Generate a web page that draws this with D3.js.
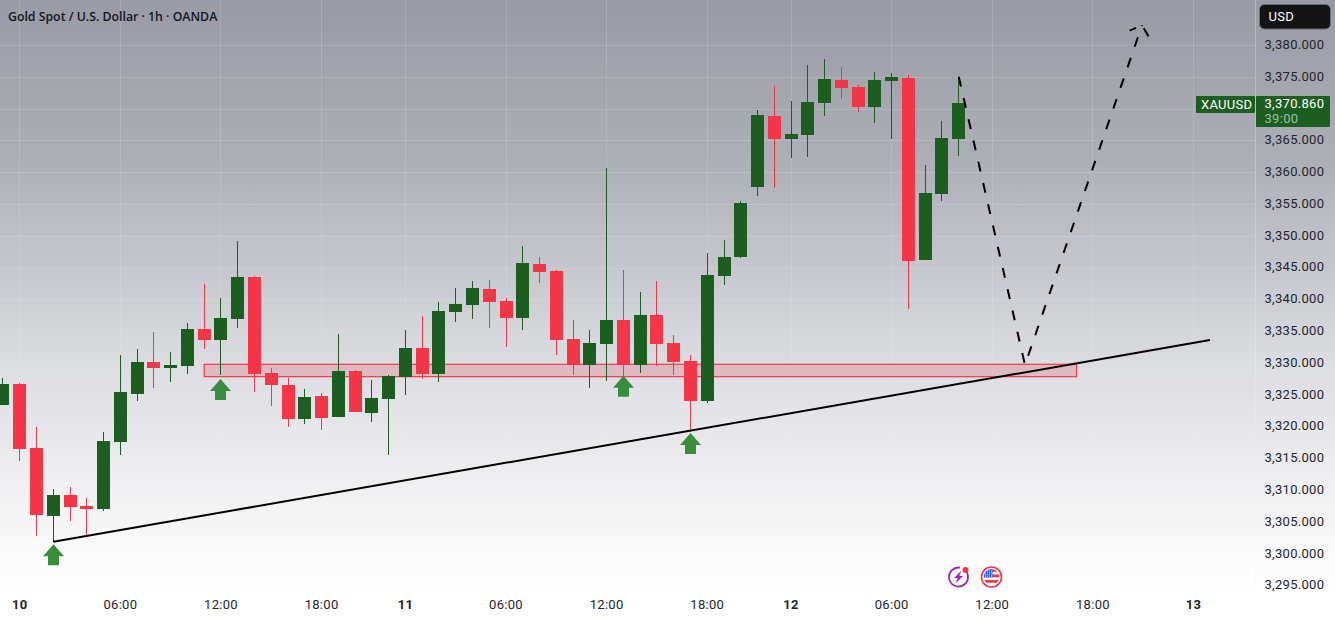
<!DOCTYPE html>
<html>
<head>
<meta charset="utf-8">
<title>Gold Spot / U.S. Dollar</title>
<script src="https://cdn.jsdelivr.net/npm/d3@7"></script>
<style>
  html, body { margin: 0; padding: 0; background: #fff; overflow: hidden; }
  svg { display: block; }
  text { font-family: Roboto, sans-serif; letter-spacing: 0.3px; }
</style>
</head>
<body>
<svg id="chart" width="1335" height="618"></svg>
<script>
// Hourly XAUUSD candles. The first bar sits one slot left of the "10" session open.
const firstBar = -1;
const opens  = [3323.4,3326.7,3316.6,3305.9,3309.2,3307.5,3307.0,3317.6,3325.1,3330.2,3329.2,3329.5,3335.3,3333.6,3336.9,3343.5,3328.4,3326.5,3321.2,3324.8,3321.5,3328.7,3322.1,3324.3,3327.8,3332.4,3328.3,3338.0,3339.1,3341.6,3339.7,3337.1,3345.6,3344.5,3333.8,3329.7,3333.0,3336.8,3329.7,3337.5,3333.1,3330.3,3324.0,3343.7,3346.7,3357.7,3368.8,3365.2,3365.8,3370.9,3374.5,3373.4,3370.2,3374.3,3374.8,3346.2,3356.6,3365.2];
const highs  = [3327.6,3326.9,3319.9,3310.2,3310.5,3308.8,3319.2,3331.3,3332.2,3334.9,3331.7,3336.3,3342.4,3340.2,3349.2,3343.7,3329.2,3327.6,3325.9,3325.3,3334.6,3328.9,3327.3,3328.1,3335.2,3337.4,3339.6,3341.8,3342.9,3343.0,3340.2,3348.4,3346.7,3344.6,3336.8,3335.2,3360.7,3344.6,3341.2,3342.9,3334.4,3331.3,3347.3,3349.3,3355.5,3369.8,3373.6,3371.2,3376.9,3377.8,3376.5,3373.7,3375.8,3375.6,3375.3,3361.1,3368.0,3374.8];
const lows   = [3323.4,3314.6,3302.8,3301.9,3305.2,3302.8,3306.7,3315.5,3324.0,3326.1,3327.0,3328.3,3332.2,3328.1,3335.5,3325.4,3323.2,3319.9,3320.4,3319.5,3321.5,3322.3,3320.7,3315.5,3325.0,3327.5,3327.0,3336.4,3336.9,3335.5,3332.5,3335.2,3342.6,3331.3,3328.1,3326.1,3327.2,3328.0,3328.4,3329.5,3328.1,3319.2,3323.7,3342.3,3346.5,3356.3,3357.5,3362.2,3362.4,3368.8,3371.5,3369.5,3367.7,3365.2,3338.5,3346.2,3355.5,3362.5];
const closes = [3326.7,3316.5,3306.1,3309.2,3307.4,3307.0,3317.7,3325.4,3330.2,3329.2,3329.7,3335.3,3333.6,3337.1,3343.5,3328.3,3326.5,3321.2,3324.7,3321.4,3328.7,3322.3,3324.5,3328.0,3332.4,3328.3,3338.2,3339.3,3341.8,3339.6,3337.1,3345.7,3344.3,3333.6,3329.7,3333.1,3336.8,3329.7,3337.5,3333.0,3330.2,3324.0,3343.8,3346.7,3355.2,3369.0,3365.2,3366.0,3371.0,3374.7,3373.2,3370.2,3374.5,3375.0,3346.0,3356.7,3365.4,3370.86];

// Axis labelling; the 3,370 label gives way to the last-price tag
const priceTicks = d3.range(3295, 3381, 5);
const priceLabels = priceTicks.filter(d => d !== 3370);
const timeTickBars   = [0, 6, 12, 18, 23, 29, 35, 41, 46, 52, 58, 64, 70];
const timeTickLabels = ["10", "06:00", "12:00", "18:00", "11", "06:00", "12:00", "18:00", "12", "06:00", "12:00", "18:00", "13"];
const dayLabels = ["10", "11", "12", "13"];

// Hand-drawn annotations, in [bar, price]
const trendLine = [[2, 3301.9], [70.98, 3333.6]];
const supportZone = { bars: [11, 63.03], prices: [3329.8, 3327.85] };
const projection = [[56, 3375.0], [59.95, 3329.7], [66.93, 3383.1]];
const projectionHeadLeft  = [[66.93, 3383.1], [66.15, 3382.2]];
const projectionHeadRight = [[66.93, 3383.1], [67.37, 3381.1]];
const bounceArrows = [[2, 3301.5], [12, 3327.5], [36, 3328.0], [40, 3319.0]];

const lastPrice = "3,370.860";
const countdown = "39:00";
const symbol = "XAUUSD";
const currency = "USD";
const title = "Gold Spot / U.S. Dollar · 1h · OANDA";

const GREEN = "#1b5e20", RED = "#f53648", ARROW = "#388e3c", INK = "#22252e";
const width = 1335, height = 618, paneRight = 1255;

const x = d3.scaleLinear().domain([0, 70]).range([19.75, 1193.51]);
const y = d3.scaleLinear().domain([3380, 3295]).range([45, 585.6]);
const px = b => Math.floor(x(b));
const line = d3.line().x(d => x(d[0])).y(d => y(d[1]));

const svg = d3.select("#chart");

// Page background fades from slate at the top to white at the bottom
const defs = svg.append("defs");
const grad = defs.append("linearGradient").attr("id", "bg")
  .attr("gradientUnits", "userSpaceOnUse").attr("x1", 0).attr("y1", 0).attr("x2", 0).attr("y2", height);
[[0, "#989ba4"], [160, "#adafb6"], [360, "#dbdce0"], [540, "#f8f8f9"], [590, "#ffffff"], [618, "#ffffff"]]
  .forEach(([o, c]) => grad.append("stop").attr("offset", o / height).attr("stop-color", c));
svg.append("rect").attr("width", width).attr("height", height).attr("fill", "url(#bg)");

// Grid
const grid = svg.append("g").attr("stroke", "#f0f3fa").attr("stroke-opacity", 0.16).attr("shape-rendering", "crispEdges");
grid.selectAll(".h").data(priceTicks).join("line").attr("class", "h")
  .attr("x1", 0).attr("x2", paneRight).attr("y1", d => Math.round(y(d)) + 0.5).attr("y2", d => Math.round(y(d)) + 0.5);
grid.selectAll(".v").data(timeTickBars).join("line").attr("class", "v")
  .attr("y1", 0).attr("y2", 590).attr("x1", d => px(d) + 0.5).attr("x2", d => px(d) + 0.5);
grid.append("line").attr("x1", paneRight + 0.5).attr("x2", paneRight + 0.5).attr("y1", 0).attr("y2", 590).attr("stroke-opacity", 0.3);

// Support zone sits behind the candles
const zx0 = x(supportZone.bars[0]), zx1 = x(supportZone.bars[1]);
const zy0 = y(supportZone.prices[0]), zy1 = y(supportZone.prices[1]);
svg.append("rect").attr("x", zx0).attr("y", zy0).attr("width", zx1 - zx0).attr("height", zy1 - zy0)
  .attr("fill", "#e0303f").attr("fill-opacity", 0.2).attr("stroke", RED).attr("stroke-width", 1.2);

// Candles
const candles = opens.map((o, i) => ({ bar: firstBar + i, o, h: highs[i], l: lows[i], c: closes[i] }));
const gCandle = svg.append("g").attr("shape-rendering", "crispEdges");
const color = d => d.c >= d.o ? GREEN : RED;
gCandle.selectAll(".wick").data(candles).join("rect").attr("class", "wick")
  .attr("x", d => px(d.bar)).attr("width", 1)
  .attr("y", d => Math.round(y(d.h))).attr("height", d => Math.round(y(d.l)) - Math.round(y(d.h)))
  .attr("fill", color);
gCandle.selectAll(".body").data(candles).join("rect").attr("class", "body")
  .attr("x", d => px(d.bar) - 6).attr("width", 13)
  .attr("y", d => Math.round(y(Math.max(d.o, d.c))))
  .attr("height", d => Math.max(1, Math.round(y(Math.min(d.o, d.c))) - Math.round(y(Math.max(d.o, d.c)))))
  .attr("fill", color);

// Rising trend line
svg.append("path").attr("d", line(trendLine)).attr("fill", "none").attr("stroke", "#000").attr("stroke-width", 2);

// Projected swing, dashed, with its open arrow head
const dashed = (pts, dash) => svg.append("path").attr("d", line(pts)).attr("fill", "none")
  .attr("stroke", "#000").attr("stroke-width", 2).attr("stroke-dasharray", dash);
dashed(projection, "10 11.8");
dashed(projectionHeadLeft, "0 6.5 7 40");
dashed(projectionHeadRight, "0 3.5 9.5 40");

// Up arrows marking bounces; tips anchored to the price
const upArrow = "M0,0 L10.5,12 L5.5,12 L5.5,21 L-5.5,21 L-5.5,12 L-10.5,12 Z";
svg.selectAll(".bounce").data(bounceArrows).join("path").attr("class", "bounce")
  .attr("transform", d => `translate(${px(d[0]) + 0.5},${y(d[1])})`)
  .attr("d", upArrow).attr("fill", ARROW);

// Price axis
const yAxis = d3.axisRight(y).tickValues(priceLabels).tickSize(0).tickPadding(0).tickFormat(d3.format(",.3f"));
const gy = svg.append("g").attr("transform", "translate(1264.5,0)").call(yAxis);
gy.select(".domain").remove();
gy.selectAll("text").attr("font-size", 13).attr("fill", INK).attr("font-family", "Roboto, sans-serif").attr("dy", "0.26em");

// Time axis
const xAxis = d3.axisBottom(x).tickValues(timeTickBars).tickSize(0).tickPadding(0)
  .tickFormat((d, i) => timeTickLabels[i]);
const gx = svg.append("g").attr("transform", "translate(0,599)").call(xAxis);
gx.select(".domain").remove();
gx.selectAll("text").attr("font-size", 13).attr("fill", INK).attr("font-family", "Roboto, sans-serif")
  .attr("dy", "0.74em").attr("dx", -0.5)
  .attr("font-weight", d => dayLabels.includes(timeTickLabels[timeTickBars.indexOf(d)]) ? 700 : 400);

// Title
svg.append("text").attr("x", 8).attr("y", 21).attr("font-size", 12.3).attr("font-weight", 600)
  .attr("fill", "#131722").style("font-family", "'Open Sans', sans-serif").style("letter-spacing", "0").text(title);

// Currency button
svg.append("rect").attr("x", 1259.5).attr("y", 4.5).attr("width", 71).attr("height", 24.5).attr("rx", 5)
  .attr("fill", "#131313").attr("stroke", "#6a6d76");
svg.append("text").attr("x", 1268.5).attr("y", 21).attr("font-size", 13).attr("fill", "#fff").text(currency);

// Last price tags
svg.append("rect").attr("x", 1196).attr("y", 96).attr("width", 59).attr("height", 17).attr("rx", 1).attr("fill", GREEN);
svg.append("text").attr("x", 1201).attr("y", 109).attr("font-size", 13).attr("fill", "#fff").text(symbol);
svg.append("rect").attr("x", 1256).attr("y", 96).attr("width", 74).attr("height", 31).attr("rx", 1).attr("fill", GREEN);
svg.append("text").attr("x", 1264.5).attr("y", 108).attr("font-size", 13).attr("fill", "#fff").text(lastPrice);
svg.append("text").attr("x", 1264.5).attr("y", 123).attr("font-size", 13).attr("fill", "#a4bfa6").text(countdown);

// Event badges above the time axis: a purple bolt and a US flag
const bolt = svg.append("g").attr("transform", "translate(958.5,577)");
bolt.append("path").attr("fill", "none").attr("stroke", "#9c27b0").attr("stroke-width", 1.8)
  .attr("d", d3.arc()({ innerRadius: 9.5, outerRadius: 9.5, startAngle: 0.75, endAngle: 2 * Math.PI + 0.15 }));
bolt.append("path").attr("fill", "#9c27b0").attr("d", "M3,-6.5 L-4.5,1 L-0.8,1 L-3,6.5 L4.5,-1 L0.8,-1 Z");
bolt.append("circle").attr("cx", 7).attr("cy", -7).attr("r", 3).attr("fill", "#f23645");

const flag = svg.append("g").attr("transform", "translate(991.5,577)");
defs.append("clipPath").attr("id", "flagClip").append("circle").attr("r", 7.8);
flag.append("circle").attr("r", 10).attr("fill", "#fff").attr("stroke", "#f23645").attr("stroke-width", 1.6);
const flagInner = flag.append("g").attr("clip-path", "url(#flagClip)");
flagInner.append("rect").attr("x", -8).attr("y", -8).attr("width", 16).attr("height", 16).attr("fill", "#fff");
[-8, -2.5, 3].forEach(t => flagInner.append("rect").attr("x", -8).attr("y", t).attr("width", 16).attr("height", 2.8).attr("fill", "#f23645"));
flagInner.append("rect").attr("x", -8).attr("y", -8).attr("width", 9).attr("height", 8.5).attr("fill", "#2962ff");
d3.range(-6.5, 0, 2).forEach(cx => d3.range(-6.5, 0, 2).forEach(cy =>
  flagInner.append("rect").attr("x", cx).attr("y", cy).attr("width", 0.9).attr("height", 0.9).attr("fill", "#fff")));
</script>
</body>
</html>
